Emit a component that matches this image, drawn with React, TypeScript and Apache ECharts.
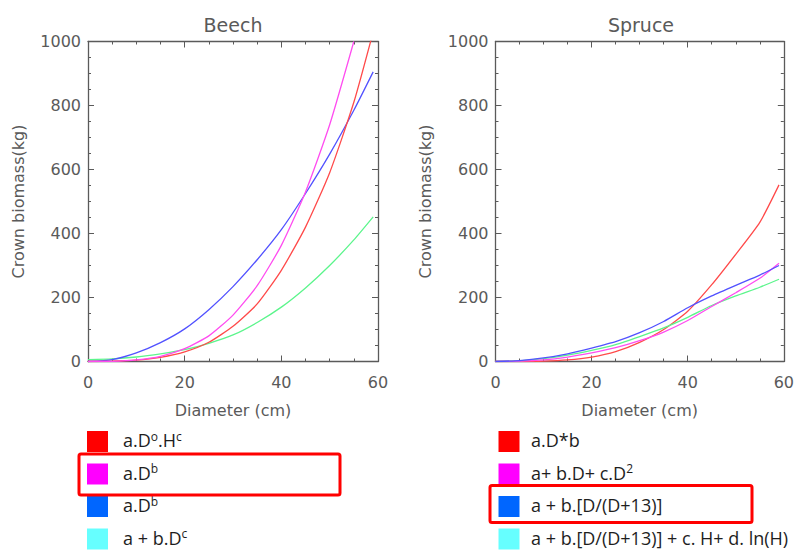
import React, { useEffect, useRef } from "react";
import * as echarts from "echarts";

// ---- Data ----
const diameters = [0, 5, 10, 15, 20, 25, 30, 35, 40, 45, 50, 55, 59];

// Beech
const beechRed = [0, 1, 4, 13, 30, 60, 110, 180, 285, 420, 590, 810, 1030];
const beechMagenta = [0, 0.5, 5, 16, 40, 80, 145, 237, 363, 530, 740, 1000, null];
const beechBlue = [0, 6, 27, 59, 102, 162, 234, 318, 412, 525, 648, 785, 905];
const beechGreen = [6, 8, 14, 24, 37, 57, 83, 122, 170, 230, 300, 380, 452];

// Spruce
const spruceRed = [0, 0, 1, 5, 14, 31, 60, 100, 157, 240, 335, 435, 552];
const spruceMagenta = [0, 1, 5, 14, 27, 43, 65, 92, 128, 172, 215, 260, 307];
const spruceBlue = [0, 3, 11, 24, 42, 62, 90, 125, 168, 205, 238, 270, 300];
const spruceGreen = [0, 2, 9, 20, 35, 53, 78, 105, 138, 175, 205, 232, 257];

const xTicks = { min: 0, max: 60, interval: 20 };
const yTicks = { min: 0, max: 1000, interval: 200 };

const panelTitles = ["Beech", "Spruce"];
const xAxisTitle = "Diameter (cm)";
const yAxisTitle = "Crown biomass(kg)";

const beechLegendLabels = [
  "{n|a.D}{s|o}{n|.H}{s|c}",
  "{n|a.D}{s|b}",
  "{n|a.D}{s|b}",
  "{n|a + b.D}{s|c}",
];
const spruceLegendLabels = [
  "{n|a.D*b}",
  "{n|a+ b.D+ c.D}{s|2}",
  "{n|a + b.[D/(D+13)]}",
  "{n|a + b.[D/(D+13)] + c. H+ d. ln(H)}",
];
const legendColors = ["#ff0000", "#ff00ff", "#0066ff", "#66ffff"];
const lineColors = ["#ff4a4a", "#ff4cf0", "#5252ff", "#5cf58c"];

const AXIS_COLOR = "#5a5a5a";
const AXIS_FONT = "DejaVu Sans";
const LEGEND_FONT = "Open Sans";

function pairs(vals: (number | null)[]) {
  return diameters.map((d, i) => [d, vals[i]]);
}

export default function App() {
  const ref = useRef<HTMLDivElement>(null);

  useEffect(() => {
    if (!ref.current) return;
    const chart = echarts.init(ref.current, undefined, { renderer: "svg" });

    const grids = [
      { left: 88, top: 41.5, width: 290, height: 320 },
      { left: 495.5, top: 41.5, width: 291, height: 320 },
    ];

    const tickStyle = { color: AXIS_COLOR, width: 1 };
    const baseAxis = {
      axisLine: { show: true, onZero: false, lineStyle: { color: AXIS_COLOR, width: 1.3 } },
      axisTick: { show: true, inside: true, length: 6, lineStyle: tickStyle },
      minorTick: { show: true, splitNumber: 4, length: 3, lineStyle: tickStyle },
      splitLine: { show: false },
      minorSplitLine: { show: false },
    };

    const xAxes: any[] = [];
    const yAxes: any[] = [];
    [0, 1].forEach((g) => {
      xAxes.push({
        ...baseAxis,
        type: "value",
        gridIndex: g,
        position: "bottom",
        ...xTicks,
        name: xAxisTitle,
        nameLocation: "middle",
        nameGap: 41,
        nameTextStyle: { fontSize: 16, color: AXIS_COLOR, fontFamily: AXIS_FONT },
        axisLabel: {
          show: true,
          margin: 13,
          fontSize: 16,
          color: AXIS_COLOR,
          fontFamily: AXIS_FONT,
          formatter: (v: number) => String(v),
        },
      });
      xAxes.push({
        ...baseAxis,
        type: "value",
        gridIndex: g,
        position: "top",
        ...xTicks,
        axisLabel: { show: false },
      });
      yAxes.push({
        ...baseAxis,
        type: "value",
        gridIndex: g,
        position: "left",
        ...yTicks,
        name: yAxisTitle,
        nameLocation: "middle",
        nameGap: 62,
        nameRotate: 90,
        nameTextStyle: { fontSize: 16, color: AXIS_COLOR, fontFamily: AXIS_FONT },
        axisLabel: {
          show: true,
          margin: 7,
          fontSize: 16,
          color: AXIS_COLOR,
          fontFamily: AXIS_FONT,
          formatter: (v: number) => String(v),
        },
      });
      yAxes.push({
        ...baseAxis,
        type: "value",
        gridIndex: g,
        position: "right",
        ...yTicks,
        axisLabel: { show: false },
      });
    });

    const mkSeries = (name: string, vals: (number | null)[], color: string, axis: number) => ({
      name,
      type: "line",
      xAxisIndex: axis,
      yAxisIndex: axis,
      data: pairs(vals),
      showSymbol: false,
      symbol: "none",
      smooth: 0.2,
      clip: true,
      connectNulls: false,
      lineStyle: { color, width: 1.3 },
      z: 3,
    });

    const series = [
      mkSeries("Beech green", beechGreen, lineColors[3], 0),
      mkSeries("Beech blue", beechBlue, lineColors[2], 0),
      mkSeries("Beech red", beechRed, lineColors[0], 0),
      mkSeries("Beech magenta", beechMagenta, lineColors[1], 0),
      mkSeries("Spruce red", spruceRed, lineColors[0], 2),
      mkSeries("Spruce green", spruceGreen, lineColors[3], 2),
      mkSeries("Spruce magenta", spruceMagenta, lineColors[1], 2),
      mkSeries("Spruce blue", spruceBlue, lineColors[2], 2),
    ];

    const rich = {
      n: { fontSize: 18, fontFamily: LEGEND_FONT, fill: "#1e1e1e", color: "#1e1e1e" },
      s: { fontSize: 12, fontFamily: LEGEND_FONT, fill: "#1e1e1e", color: "#1e1e1e", padding: [0, 0, 8, 0] },
    };

    const graphics: any[] = [];
    panelTitles.forEach((t, i) => {
      const g = grids[i];
      graphics.push({
        type: "text",
        x: g.left + g.width / 2,
        y: 25,
        style: {
          text: t,
          fill: AXIS_COLOR,
          fontSize: 19,
          fontFamily: AXIS_FONT,
          align: "center",
          verticalAlign: "middle",
        },
      });
    });

    const legendRowsY = [431, 463.5, 496, 528.5];
    const addLegend = (labels: string[], sqX: number, textX: number) => {
      labels.forEach((lab, i) => {
        graphics.push({
          type: "rect",
          shape: { x: sqX, y: legendRowsY[i], width: 21, height: 21 },
          style: { fill: legendColors[i] },
        });
        graphics.push({
          type: "text",
          x: textX,
          y: legendRowsY[i] + 9,
          style: {
            text: lab,
            rich,
            verticalAlign: "middle",
            align: "left",
          },
        });
      });
    };
    addLegend(beechLegendLabels, 87, 123);
    addLegend(spruceLegendLabels, 498.5, 531);

    graphics.push({
      type: "rect",
      shape: { x: 79, y: 454, width: 261, height: 41, r: 2 },
      style: { fill: "none", stroke: "#ff0000", lineWidth: 3 },
      z: 10,
    });
    graphics.push({
      type: "rect",
      shape: { x: 490, y: 485.5, width: 262, height: 37, r: 2 },
      style: { fill: "none", stroke: "#ff0000", lineWidth: 3 },
      z: 10,
    });

    chart.setOption({
      animation: false,
      backgroundColor: "#ffffff",
      grid: grids,
      xAxis: xAxes,
      yAxis: yAxes,
      series,
      graphic: graphics,
    });

    return () => chart.dispose();
  }, []);

  return (
    <div
      ref={ref}
      style={{ position: "absolute", left: 0, top: 0, width: 797, height: 550 }}
    />
  );
}
